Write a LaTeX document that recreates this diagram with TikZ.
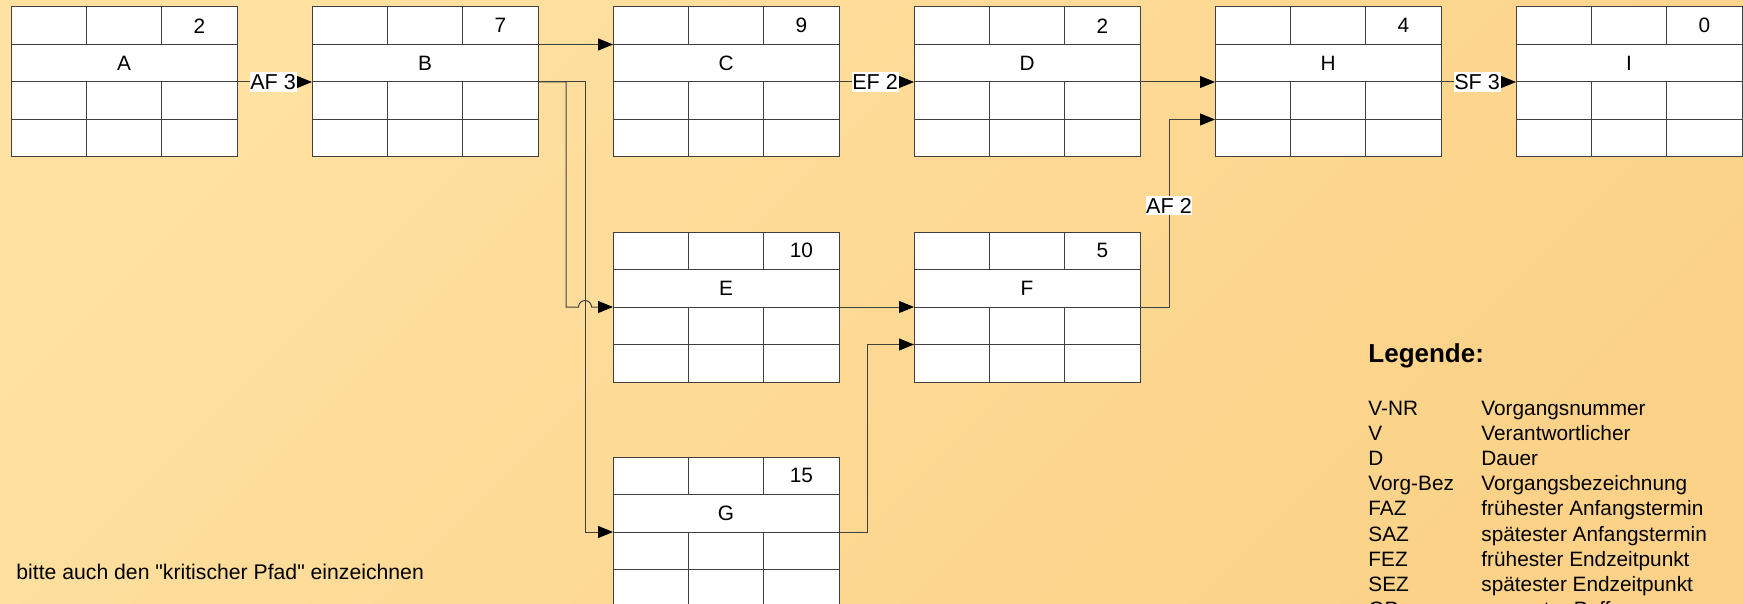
\documentclass[tikz,border=0pt]{standalone}
\usepackage{fontspec}
\setmainfont{Liberation Sans}
\usetikzlibrary{positioning,calc,arrows.meta}

\definecolor{bglight}{RGB}{255,225,161}
\definecolor{bgdark}{RGB}{251,210,136}
\definecolor{linegray}{RGB}{64,64,64}

% straight double quote (no TeX mapping)
\newcommand{\qdbl}{\XeTeXglyph\XeTeXcharglyph"22\relax}

% one activity box: name, duration, placement
\newcommand{\vorgang}[3]{%
  \node[vbox,#3] (#1) {};
  \foreach \f in {.25,.5,.75}
    \draw[grid] ($(#1.north west)!\f!(#1.south west)$) -- ($(#1.north east)!\f!(#1.south east)$);
  \foreach \f in {1/3,2/3} {
    \draw[grid] ($(#1.north west)!\f!(#1.north east)$) -- ++(0,-18.75pt);
    \draw[grid] ($(#1.south west)!\f!(#1.south east)$) -- ++(0,37.5pt);
  }
  \node[vtext] (#1-name) at ($(#1.center)+(0,9.375pt)$) {#1};
  \node[vtext] (#1-dur) at ($(#1.north east)+(-18.8pt,-9.375pt)$) {#2};
  \coordinate (#1-w1) at ($(#1.north west)!.25!(#1.south west)$);
  \coordinate (#1-e1) at ($(#1.north east)!.25!(#1.south east)$);
  \coordinate (#1-w3) at ($(#1.north west)!.75!(#1.south west)$);
}

\begin{document}
\begin{tikzpicture}[
    vbox/.style={rectangle, draw=linegray, fill=white, line width=0.5pt, minimum width=113pt, minimum height=75pt, inner sep=0pt, outer sep=0pt},
    grid/.style={draw=linegray, line width=0.5pt},
    vtext/.style={inner sep=0pt, font=\fontsize{10.4}{12}\selectfont},
    conn/.style={draw=linegray, line width=0.5pt, -{Triangle[length=7.5pt,width=6pt,color=black]}},
    lab/.style={fill=white, inner xsep=0.3pt, inner ysep=1pt, font=\fontsize{10.8}{12}\selectfont},
    node distance=37.5pt
]
% Background
\shade[top color=bglight, bottom color=bgdark, shading angle=45] (0,0) rectangle (871.5pt,-302pt);
\useasboundingbox (0,0) rectangle (871.5pt,-302pt);

% Activities
\vorgang{A}{2}{anchor=north west, at={(5.5pt,-3.5pt)}}
\vorgang{B}{7}{right=of A}
\vorgang{C}{9}{right=of B}
\vorgang{D}{2}{right=of C}
\vorgang{H}{4}{right=of D}
\vorgang{I}{0}{right=of H}
\vorgang{E}{10}{below=of C}
\vorgang{F}{5}{right=of E}
\vorgang{G}{15}{below=of E}

% Dependencies
\draw[conn] (A) -- node[lab,pos=1,anchor=east,xshift=-7.5pt] (lAB) {AF 3} (B);
\draw[conn] (B-e1) -- (C-w1);
\draw[conn] (B.east) -- ++(23.5pt,0) coordinate (bg) |- (G.west);
\draw[conn] (B.east) -- ++(14pt,0) |- ([xshift=-3.25pt]bg |- E.west)
  arc[start angle=180, end angle=0, radius=3.25pt] -- (E.west);
\draw[conn] (C) -- node[lab,pos=1,anchor=east,xshift=-7.5pt] (lCD) {EF 2} (D);
\draw[conn] (D) -- (H);
\draw[conn] (H) -- node[lab,pos=1,anchor=east,xshift=-7.5pt] (lHI) {SF 3} (I);
\draw[conn] (E) -- (F);
\draw[conn] (G.east) -- ++(14pt,0) |- (F-w3);
\draw[conn] (F.east) -- ++(14.5pt,0) |- node[lab,pos=0.27] (lFH) {AF 2} (H-w3);

% Note
\node[anchor=base west, inner sep=0pt, font=\fontsize{10.6}{12}\selectfont] (note) at (8pt,-289.5pt)
  {bitte auch den \qdbl kritischer Pfad\qdbl{} einzeichnen};

% Legend
\node[anchor=base west, inner sep=0pt, font=\bfseries\fontsize{13}{15}\selectfont] (legtitle) at (684pt,-181pt) {Legende:};
\node[anchor=base west, inner sep=0pt, font=\fontsize{10.4}{12.6}\selectfont] (legtab) at (684pt,-207.5pt) {%
  \begin{tabular}[t]{@{}p{56.5pt}@{}l@{}}
    V-NR & Vorgangsnummer\\
    V & Verantwortlicher\\
    D & Dauer\\
    Vorg-Bez & Vorgangsbezeichnung\\
    FAZ & frühester Anfangstermin\\
    SAZ & spätester Anfangstermin\\
    FEZ & frühester Endzeitpunkt\\
    SEZ & spätester Endzeitpunkt\\
    GP & gesamter Puffer
  \end{tabular}};
\end{tikzpicture}
\end{document}
